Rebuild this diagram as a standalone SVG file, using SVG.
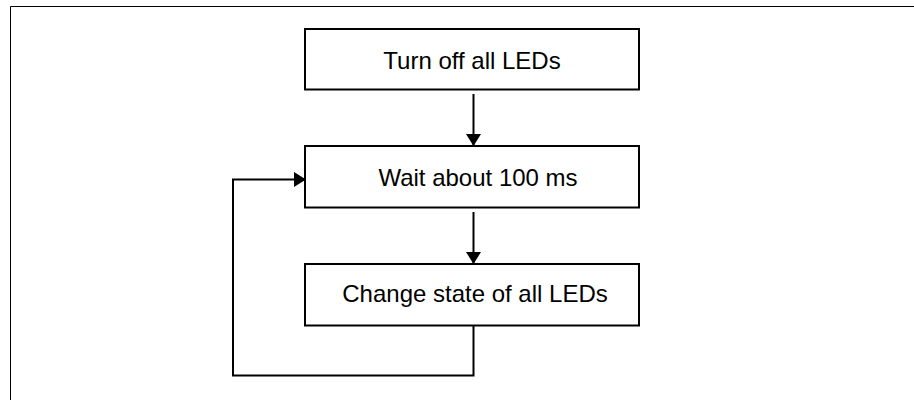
<svg xmlns="http://www.w3.org/2000/svg" width="914" height="400" viewBox="0 0 914 400">
<style>
.box{fill:#fff;stroke:#000;stroke-width:2}
.lbl{font-family:"Liberation Sans",Arial,sans-serif;font-size:24px;fill:#000;text-anchor:middle}
.conn{fill:none;stroke:#000;stroke-width:2}
</style>
<defs>
<marker id="ah" markerUnits="userSpaceOnUse" markerWidth="12" markerHeight="15" refX="12" refY="7.5" orient="auto">
<path d="M0,0 L12,7.5 L0,15 Z" fill="#000"/>
</marker>
</defs>
<rect x="0" y="0" width="914" height="400" fill="#fff"/>
<path d="M10.5,400 V6.5 H914" fill="none" stroke="#000" stroke-width="1"/>
<g id="n1"><rect class="box" x="305" y="29" width="334" height="60.5"/><text class="lbl" x="472" y="69">Turn off all LEDs</text></g>
<g id="n2"><rect class="box" x="305" y="146" width="334" height="61.5"/><text class="lbl" x="478" y="186">Wait about 100 ms</text></g>
<g id="n3"><rect class="box" x="305" y="264" width="334" height="61.5"/><text class="lbl" x="475" y="302">Change state of all LEDs</text></g>
<g id="connectors">
<path class="conn" d="M473.5,94 V146" marker-end="url(#ah)"/>
<path class="conn" d="M473.5,212 V264" marker-end="url(#ah)"/>
<path class="conn" d="M473.5,325.5 V375.5 H233 V179.5 H306" marker-end="url(#ah)"/>
</g>
</svg>
